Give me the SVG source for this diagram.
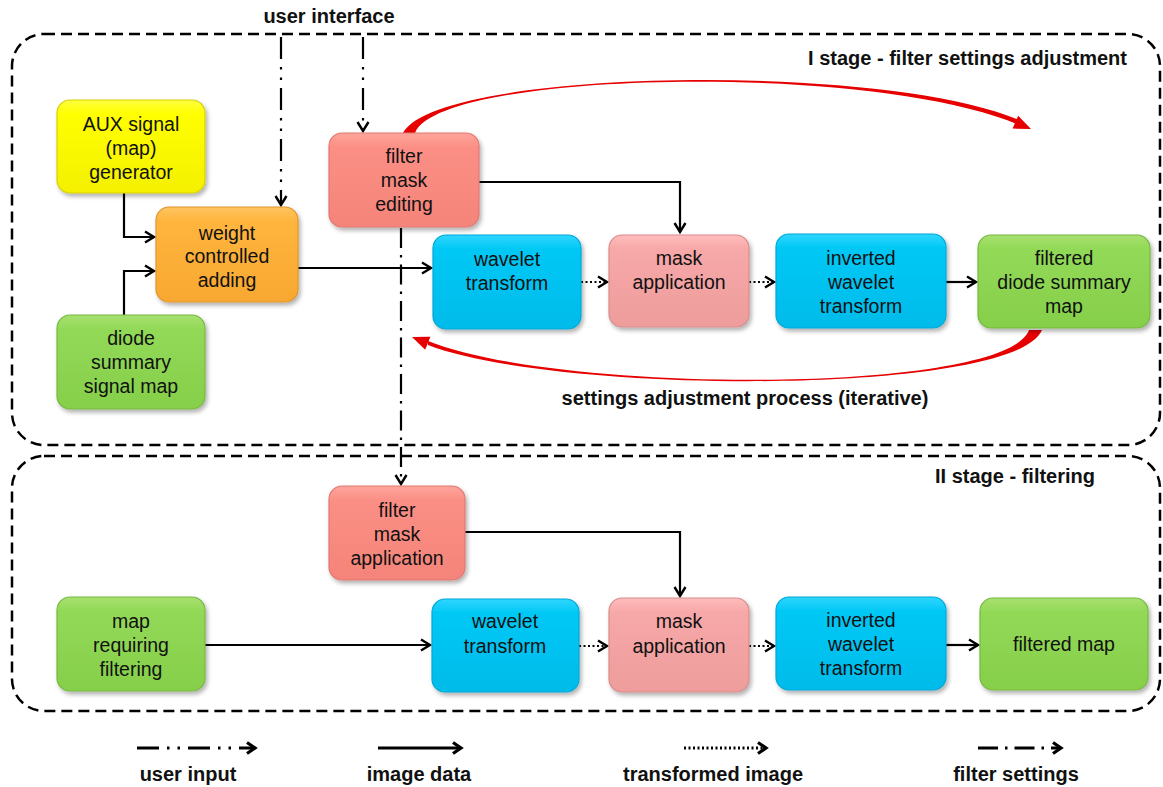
<svg xmlns="http://www.w3.org/2000/svg" width="1163" height="787" viewBox="0 0 1163 787">
<style>
.stage{fill:none;stroke:#000;stroke-width:2.5;stroke-dasharray:11 6}
.title{font-family:"Liberation Sans",Arial,sans-serif;font-weight:bold;font-size:20px;fill:#111}
.lbl{font-family:"Liberation Sans",Arial,sans-serif;font-size:19.5px;fill:#111;text-anchor:middle}
.node{stroke-width:1.2;filter:url(#sh)}
.solid{fill:none;stroke:#000;stroke-width:2.2}
.dot{fill:none;stroke:#000;stroke-width:2.2;stroke-dasharray:2 2.5}
.uin{fill:none;stroke:#000;stroke-width:2.2;stroke-dasharray:22 8 2.5 8 2.5 8}
.fset{fill:none;stroke:#000;stroke-width:2.2;stroke-dasharray:20 7 2.5 7}
.leg{stroke-width:3}
.red{fill:#E60000}
</style>
<defs>
<filter id="sh" x="-10%" y="-10%" width="130%" height="130%">
<feDropShadow dx="2" dy="3" stdDeviation="2" flood-color="#000" flood-opacity="0.3"/>
</filter>
<linearGradient id="gY" x1="0" y1="0" x2="0" y2="1"><stop offset="0" stop-color="#FFFF40"/><stop offset="0.15" stop-color="#FFFF00"/><stop offset="1" stop-color="#F4F000"/></linearGradient>
<linearGradient id="gO" x1="0" y1="0" x2="0" y2="1"><stop offset="0" stop-color="#FFC460"/><stop offset="0.15" stop-color="#FFB53E"/><stop offset="1" stop-color="#F8A830"/></linearGradient>
<linearGradient id="gG" x1="0" y1="0" x2="0" y2="1"><stop offset="0" stop-color="#A8E070"/><stop offset="0.15" stop-color="#92D957"/><stop offset="1" stop-color="#86CF4A"/></linearGradient>
<linearGradient id="gS" x1="0" y1="0" x2="0" y2="1"><stop offset="0" stop-color="#FFA59C"/><stop offset="0.15" stop-color="#FB8F85"/><stop offset="1" stop-color="#F5847A"/></linearGradient>
<linearGradient id="gP" x1="0" y1="0" x2="0" y2="1"><stop offset="0" stop-color="#FFBDBD"/><stop offset="0.15" stop-color="#F7A8A8"/><stop offset="1" stop-color="#EE9C9C"/></linearGradient>
<linearGradient id="gC" x1="0" y1="0" x2="0" y2="1"><stop offset="0" stop-color="#30D6FF"/><stop offset="0.15" stop-color="#00C8F5"/><stop offset="1" stop-color="#00BBEA"/></linearGradient>
<marker id="ah" markerUnits="userSpaceOnUse" markerWidth="14" markerHeight="14" refX="11" refY="7" orient="auto" overflow="visible">
<path d="M2,1.5 L11,7 L2,12.5" fill="none" stroke="#000" stroke-width="2.4" stroke-dasharray="none"/>
</marker>
<marker id="ahL" markerUnits="userSpaceOnUse" markerWidth="14" markerHeight="14" refX="11" refY="7" orient="auto" overflow="visible">
<path d="M3,1.5 L11,7 L3,12.5" fill="none" stroke="#000" stroke-width="3.2" stroke-dasharray="none"/>
</marker>
</defs>
<rect width="1163" height="787" fill="#fff"/>

<g id="containers">
<rect class="stage" x="12" y="34" width="1148" height="411" rx="32"/>
<rect class="stage" x="12" y="456" width="1148" height="255" rx="32"/>
<text class="title" x="329" y="23" text-anchor="middle">user interface</text>
<text class="title" x="1127" y="65" text-anchor="end">I stage - filter settings adjustment</text>
<text class="title" x="745" y="405" text-anchor="middle">settings adjustment process (iterative)</text>
<text class="title" x="1095" y="483" text-anchor="end">II stage - filtering</text>
</g>

<g id="connectors">
<path class="uin" d="M281,37 V205" marker-end="url(#ah)"/>
<path class="uin" d="M363,37 V131" marker-end="url(#ah)"/>
<path class="fset" d="M401,228 V484" marker-end="url(#ah)"/>
<path class="solid" d="M124,193 V237 H154" marker-end="url(#ah)"/>
<path class="solid" d="M124,315 V271 H154" marker-end="url(#ah)"/>
<path class="solid" d="M298,268 H431" marker-end="url(#ah)"/>
<path class="solid" d="M479,182 H680 V232" marker-end="url(#ah)"/>
<path class="dot" d="M581,282 H607" marker-end="url(#ah)"/>
<path class="dot" d="M749,282 H774" marker-end="url(#ah)"/>
<path class="solid" d="M946,282 H976" marker-end="url(#ah)"/>
<path class="solid" d="M465,532 H680 V596" marker-end="url(#ah)"/>
<path class="solid" d="M205,645 H430" marker-end="url(#ah)"/>
<path class="dot" d="M579,646 H607" marker-end="url(#ah)"/>
<path class="dot" d="M749,646 H774" marker-end="url(#ah)"/>
<path class="solid" d="M946,645 H978" marker-end="url(#ah)"/>
<path class="red" d="M403,133 C436,69 880,61 1019,120 L1024,127 C880,61.5 440,70 415,133 Z"/>
<path class="red" d="M1031,129 L1012.6,128.6 L1018.2,115.8 Z"/>
<path class="red" d="M1042,330 C1015,395.5 560,395.5 428,345 L428,341 C560,394.5 1006,394.5 1029,330 Z"/>
<path class="red" d="M412,337 L430.4,336.7 L425.2,349.7 Z"/>
</g>

<g id="aux">
<rect class="node" x="57" y="100" width="148" height="93" rx="13" fill="url(#gY)" stroke="#D8D000"/>
<text class="lbl" x="131" y="131">AUX signal</text><text class="lbl" x="131" y="155">(map)</text><text class="lbl" x="131" y="179">generator</text>
</g>
<g id="weight">
<rect class="node" x="156" y="207" width="142" height="95" rx="13" fill="url(#gO)" stroke="#E0952A"/>
<text class="lbl" x="227" y="240">weight</text><text class="lbl" x="227" y="263">controlled</text><text class="lbl" x="227" y="287">adding</text>
</g>
<g id="diode">
<rect class="node" x="57" y="315" width="148" height="94" rx="13" fill="url(#gG)" stroke="#76B840"/>
<text class="lbl" x="131" y="345">diode</text><text class="lbl" x="131" y="369">summary</text><text class="lbl" x="131" y="393">signal map</text>
</g>
<g id="editing">
<rect class="node" x="329" y="133" width="150" height="94" rx="13" fill="url(#gS)" stroke="#E07870"/>
<text class="lbl" x="404" y="163">filter</text><text class="lbl" x="404" y="187">mask</text><text class="lbl" x="404" y="211">editing</text>
</g>
<g id="wavelet1">
<rect class="node" x="433" y="235" width="148" height="94" rx="13" fill="url(#gC)" stroke="#00A8D8"/>
<text class="lbl" x="507" y="266">wavelet</text><text class="lbl" x="507" y="290">transform</text>
</g>
<g id="mask1">
<rect class="node" x="609" y="235" width="140" height="92" rx="13" fill="url(#gP)" stroke="#D88C8C"/>
<text class="lbl" x="679" y="265">mask</text><text class="lbl" x="679" y="289">application</text>
</g>
<g id="inverted1">
<rect class="node" x="776" y="234" width="170" height="94" rx="13" fill="url(#gC)" stroke="#00A8D8"/>
<text class="lbl" x="861" y="265">inverted</text><text class="lbl" x="861" y="289">wavelet</text><text class="lbl" x="861" y="313">transform</text>
</g>
<g id="filtered1">
<rect class="node" x="978" y="235" width="172" height="93" rx="13" fill="url(#gG)" stroke="#76B840"/>
<text class="lbl" x="1064" y="265">filtered</text><text class="lbl" x="1064" y="289">diode summary</text><text class="lbl" x="1064" y="313">map</text>
</g>
<g id="application">
<rect class="node" x="329" y="486" width="136" height="94" rx="13" fill="url(#gS)" stroke="#E07870"/>
<text class="lbl" x="397" y="517">filter</text><text class="lbl" x="397" y="541">mask</text><text class="lbl" x="397" y="565">application</text>
</g>
<g id="mapreq">
<rect class="node" x="57" y="597" width="148" height="94" rx="13" fill="url(#gG)" stroke="#76B840"/>
<text class="lbl" x="131" y="628">map</text><text class="lbl" x="131" y="652">requiring</text><text class="lbl" x="131" y="676">filtering</text>
</g>
<g id="wavelet2">
<rect class="node" x="432" y="599" width="147" height="93" rx="13" fill="url(#gC)" stroke="#00A8D8"/>
<text class="lbl" x="505" y="628">wavelet</text><text class="lbl" x="505" y="653">transform</text>
</g>
<g id="mask2">
<rect class="node" x="609" y="598" width="140" height="94" rx="13" fill="url(#gP)" stroke="#D88C8C"/>
<text class="lbl" x="679" y="628">mask</text><text class="lbl" x="679" y="653">application</text>
</g>
<g id="inverted2">
<rect class="node" x="776" y="597" width="170" height="93" rx="13" fill="url(#gC)" stroke="#00A8D8"/>
<text class="lbl" x="861" y="627">inverted</text><text class="lbl" x="861" y="651">wavelet</text><text class="lbl" x="861" y="675">transform</text>
</g>
<g id="filteredmap">
<rect class="node" x="980" y="598" width="168" height="92" rx="13" fill="url(#gG)" stroke="#76B840"/>
<text class="lbl" x="1064" y="651">filtered map</text>
</g>

<g id="legend">
<path class="uin leg" d="M137,748 H255" stroke-dasharray="20 10 3 7 3 10" marker-end="url(#ahL)"/>
<path class="solid leg" d="M378,748 H461" marker-end="url(#ahL)"/>
<path class="dot leg" d="M684,748 H766" stroke-dasharray="2 2" marker-end="url(#ahL)"/>
<path class="fset leg" d="M978,748 H1061" stroke-dasharray="18 9 3 8" marker-end="url(#ahL)"/>
<text class="title" x="188" y="781" text-anchor="middle">user input</text>
<text class="title" x="419" y="781" text-anchor="middle">image data</text>
<text class="title" x="713" y="781" text-anchor="middle">transformed image</text>
<text class="title" x="1016" y="781" text-anchor="middle">filter settings</text>
</g>
</svg>
